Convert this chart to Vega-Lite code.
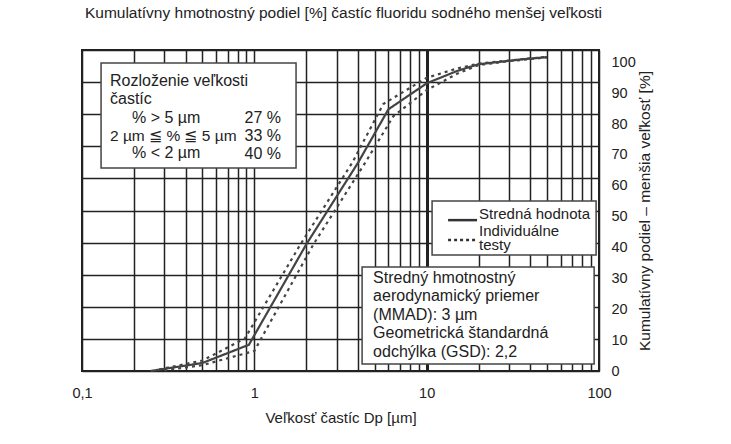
{
  "$schema": "https://vega.github.io/schema/vega-lite/v6.json",
  "width": 517,
  "height": 321,
  "autosize": {"type": "none"},
  "padding": {"left": 82, "top": 50, "right": 132, "bottom": 73},
  "background": "white",
  "title": {"text": "Kumulatívny hmotnostný podiel [%] častíc fluoridu sodného menšej veľkosti", "fontSize": 15.5, "fontWeight": "normal", "font": "Liberation Sans", "color": "#222", "anchor": "middle", "offset": 29, "dx": 3},
  "config": {
    "view": {"stroke": "#222", "strokeWidth": 2},
    "font": "Liberation Sans",
    "text": {"font": "Liberation Sans", "fontSize": 16, "color": "#222"}
  },
  "layer": [
    {
      "layer": [
        {
          "data": {"values": [{}]},
          "mark": {"type": "rule", "opacity": 0},
          "encoding": {
            "y": {"datum": 0, "type": "quantitative", "scale": {"domain": [0, 100], "nice": false},
              "axis": {"orient": "left", "values": [0, 10, 20, 30, 40, 50, 60, 70, 80, 90, 100], "tickCount": 11, "grid": true, "labels": false, "ticks": false, "domain": false, "title": null, "gridColor": "#222", "gridWidth": 1.5, "gridOpacity": 1}}
          }
        },
        {
          "data": {"values": [{}]},
          "mark": {"type": "rect", "fill": "white", "stroke": "#444", "strokeWidth": 1.5},
          "encoding": {
            "x": {"datum": 0.129, "type": "quantitative"},
            "x2": {"datum": 1.746},
            "y": {"datum": 63.24, "type": "quantitative"},
            "y2": {"datum": 95.95}
          }
        },
        {
          "data": {"values": [{}]},
          "mark": {"type": "rect", "fill": "white", "stroke": "#444", "strokeWidth": 1.5},
          "encoding": {
            "x": {"datum": 4.22, "type": "quantitative"},
            "x2": {"datum": 93.7},
            "y": {"datum": 2.18, "type": "quantitative"},
            "y2": {"datum": 32.4}
          }
        },
        {
          "data": {"values": [{}]},
          "mark": {"type": "rect", "fill": "white", "stroke": "#444", "strokeWidth": 1.5},
          "encoding": {
            "x": {"datum": 10.75, "type": "quantitative"},
            "x2": {"datum": 96.2},
            "y": {"datum": 36.1, "type": "quantitative"},
            "y2": {"datum": 52.96}
          }
        },
        {
          "data": {"values": [{}]},
          "mark": {"type": "rule", "stroke": "#333", "strokeWidth": 2.5},
          "encoding": {
            "x": {"datum": 13.31, "type": "quantitative"},
            "x2": {"datum": 19.61},
            "y": {"datum": 47.0, "type": "quantitative"}
          }
        },
        {
          "data": {"values": [{}]},
          "mark": {"type": "rule", "stroke": "#333", "strokeWidth": 2.5, "strokeDash": [3, 3]},
          "encoding": {
            "x": {"datum": 13.31, "type": "quantitative"},
            "x2": {"datum": 19.61},
            "y": {"datum": 40.8, "type": "quantitative"}
          }
        },
        {
          "data": {"values": [{}]},
          "mark": {"type": "text", "align": "left", "baseline": "alphabetic", "fontSize": 15},
          "encoding": {
            "x": {"datum": 20.14, "type": "quantitative"},
            "y": {"datum": 47.2, "type": "quantitative"},
            "text": {"value": "Stredná hodnota"}
          }
        },
        {
          "data": {"values": [{}]},
          "mark": {"type": "text", "align": "left", "baseline": "alphabetic", "fontSize": 15, "lineHeight": 14},
          "encoding": {
            "x": {"datum": 20.14, "type": "quantitative"},
            "y": {"datum": 42.1, "type": "quantitative"},
            "text": {"value": ["Individuálne", "testy"]}
          }
        },
        {
          "data": {"values": [{}]},
          "mark": {"type": "text", "align": "left", "baseline": "alphabetic", "lineHeight": 18.3},
          "encoding": {
            "x": {"datum": 0.1454, "type": "quantitative"},
            "y": {"datum": 88.9, "type": "quantitative"},
            "text": {"value": ["Rozloženie veľkosti", "častíc"]}
          }
        },
        {
          "data": {"values": [{}]},
          "mark": {"type": "text", "align": "left", "baseline": "alphabetic"},
          "encoding": {
            "x": {"datum": 0.195, "type": "quantitative"},
            "y": {"datum": 77.4, "type": "quantitative"},
            "text": {"value": "% > 5 µm"}
          }
        },
        {
          "data": {"values": [{}]},
          "mark": {"type": "text", "align": "left", "baseline": "alphabetic", "fontSize": 15.5},
          "encoding": {
            "x": {"datum": 0.1454, "type": "quantitative"},
            "y": {"datum": 71.5, "type": "quantitative"},
            "text": {"value": "2 µm ≦ % ≦ 5 µm"}
          }
        },
        {
          "data": {"values": [{}]},
          "mark": {"type": "text", "align": "left", "baseline": "alphabetic"},
          "encoding": {
            "x": {"datum": 0.195, "type": "quantitative"},
            "y": {"datum": 66.2, "type": "quantitative"},
            "text": {"value": "% < 2 µm"}
          }
        },
        {
          "data": {"values": [{}]},
          "mark": {"type": "text", "align": "right", "baseline": "alphabetic", "lineHeight": 18.3},
          "encoding": {
            "x": {"datum": 1.429, "type": "quantitative"},
            "y": {"datum": 77.4, "type": "quantitative"},
            "text": {"value": ["27 %", "33 %", "40 %"]}
          }
        },
        {
          "data": {"values": [{}]},
          "mark": {"type": "text", "align": "left", "baseline": "alphabetic", "lineHeight": 18.5},
          "encoding": {
            "x": {"datum": 4.89, "type": "quantitative"},
            "y": {"datum": 27.5, "type": "quantitative"},
            "text": {"value": ["Stredný hmotnostný", "aerodynamický priemer", "(MMAD): 3 µm", "Geometrická štandardná", "odchýlka (GSD): 2,2"]}
          }
        }
      ]
    },
    {
      "layer": [
        {
          "data": {"values": [
            {"x": 0.25, "y": 0, "series": "Stredná hodnota", "id": "M"},
            {"x": 0.5, "y": 2.6, "series": "Stredná hodnota", "id": "M"},
            {"x": 0.93, "y": 8.5, "series": "Stredná hodnota", "id": "M"},
            {"x": 2, "y": 41, "series": "Stredná hodnota", "id": "M"},
            {"x": 4, "y": 67.5, "series": "Stredná hodnota", "id": "M"},
            {"x": 6, "y": 84.8, "series": "Stredná hodnota", "id": "M"},
            {"x": 10, "y": 93.2, "series": "Stredná hodnota", "id": "M"},
            {"x": 15, "y": 97.2, "series": "Stredná hodnota", "id": "M"},
            {"x": 20, "y": 99.4, "series": "Stredná hodnota", "id": "M"},
            {"x": 27, "y": 100.2, "series": "Stredná hodnota", "id": "M"},
            {"x": 36, "y": 101, "series": "Stredná hodnota", "id": "M"},
            {"x": 50, "y": 101.7, "series": "Stredná hodnota", "id": "M"},
            {"x": 0.28, "y": 0.5, "series": "Individuálne testy", "id": "A"},
            {"x": 0.5, "y": 3.4, "series": "Individuálne testy", "id": "A"},
            {"x": 0.88, "y": 10.5, "series": "Individuálne testy", "id": "A"},
            {"x": 1.85, "y": 41, "series": "Individuálne testy", "id": "A"},
            {"x": 3.7, "y": 67.5, "series": "Individuálne testy", "id": "A"},
            {"x": 5.6, "y": 86.5, "series": "Individuálne testy", "id": "A"},
            {"x": 10, "y": 95, "series": "Individuálne testy", "id": "A"},
            {"x": 15, "y": 98, "series": "Individuálne testy", "id": "A"},
            {"x": 20, "y": 99.6, "series": "Individuálne testy", "id": "A"},
            {"x": 30, "y": 100.6, "series": "Individuálne testy", "id": "A"},
            {"x": 50, "y": 101.8, "series": "Individuálne testy", "id": "A"},
            {"x": 0.3, "y": 0.2, "series": "Individuálne testy", "id": "B"},
            {"x": 0.5, "y": 1.9, "series": "Individuálne testy", "id": "B"},
            {"x": 1.0, "y": 6.5, "series": "Individuálne testy", "id": "B"},
            {"x": 2.2, "y": 41, "series": "Individuálne testy", "id": "B"},
            {"x": 4.4, "y": 67.5, "series": "Individuálne testy", "id": "B"},
            {"x": 6.4, "y": 82.5, "series": "Individuálne testy", "id": "B"},
            {"x": 10, "y": 91, "series": "Individuálne testy", "id": "B"},
            {"x": 15, "y": 96.3, "series": "Individuálne testy", "id": "B"},
            {"x": 20, "y": 99.1, "series": "Individuálne testy", "id": "B"},
            {"x": 30, "y": 100.4, "series": "Individuálne testy", "id": "B"},
            {"x": 50, "y": 101.6, "series": "Individuálne testy", "id": "B"}
          ]},
          "mark": {"type": "line", "strokeWidth": 2.2, "color": "#444"},
          "encoding": {
            "x": {"field": "x", "type": "quantitative",
              "scale": {"type": "log", "domain": [0.1, 100], "nice": false},
              "axis": {"values": [0.1, 0.2, 0.3, 0.4, 0.5, 0.6, 0.7, 0.8, 0.9, 1, 2, 3, 4, 5, 6, 7, 8, 9, 10, 20, 30, 40, 50, 60, 70, 80, 90, 100],
                "labelExpr": "datum.value == 0.1 ? '0,1' : (datum.value == 1 || datum.value == 10 || datum.value == 100) ? format(datum.value, 'd') : ''",
                "grid": true, "gridColor": "#222", "gridOpacity": 1,
                "gridWidth": {"condition": {"test": "datum.value == 10", "value": 3}, "value": 1.5},
                "ticks": false, "domain": false, "labelPadding": 15, "labelFontSize": 14.5, "labelColor": "#222",
                "labelOverlap": false, "labelFlush": false,
                "title": "Veľkosť častíc Dp [µm]", "titleFontSize": 15, "titleFontWeight": "normal", "titleColor": "#222", "titlePadding": 11}},
            "y": {"field": "y", "type": "quantitative",
              "scale": {"domain": [0, 104], "nice": false},
              "axis": {"orient": "right", "values": [0, 10, 20, 30, 40, 50, 60, 70, 80, 90, 100], "tickCount": 11, "grid": false, "ticks": false, "domain": false,
                "labelPadding": 12, "labelAlign": "left", "labelFontSize": 14.5, "labelColor": "#222", "labelOverlap": false,
                "title": "Kumulatívny podiel – menšia veľkosť [%]", "titleAngle": 270, "titleFontSize": 15.5, "titleFontWeight": "normal", "titleColor": "#222", "titlePadding": 17}},
            "strokeDash": {"field": "series", "type": "nominal",
              "scale": {"domain": ["Stredná hodnota", "Individuálne testy"], "range": [[1, 0], [3, 4]]},
              "legend": null},
            "detail": {"field": "id"}
          }
        }
      ]
    }
  ],
  "resolve": {"scale": {"y": "independent"}, "axis": {"y": "independent"}}
}
